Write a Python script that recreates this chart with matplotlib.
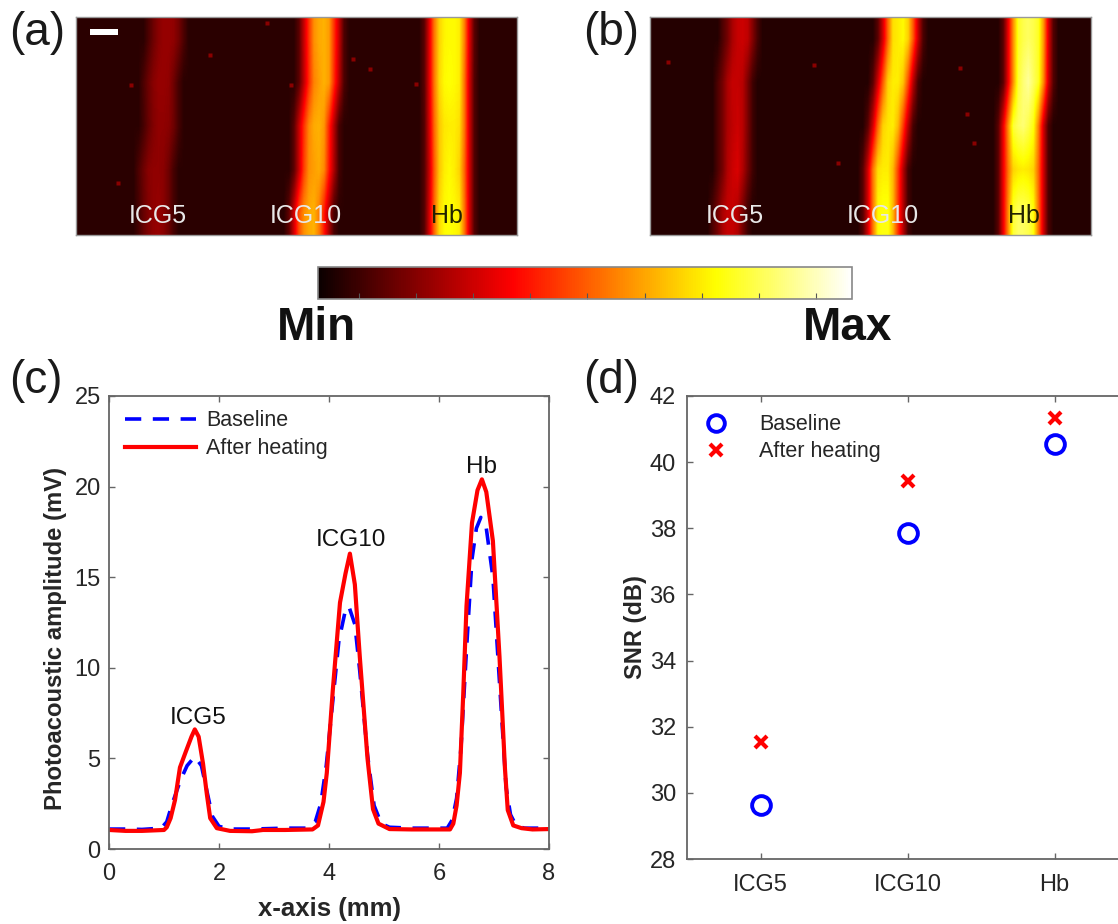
import matplotlib
matplotlib.use("Agg")
import matplotlib.pyplot as plt
from matplotlib.cm import ScalarMappable
from matplotlib.colors import Normalize
from matplotlib.lines import Line2D

plt.rcParams['font.family'] = ['Liberation Sans', 'DejaVu Sans']

W, H = 1118, 924
GREY = '#666666'
TXT = '#262626'

# ---- image panels: intensity (% of colour scale), coarse cells (88 columns)
img_a = [
 [5]*14+[10,15,19,21,21,20,16,10]+[5]*22+[12,28,44,58,62,63,60,44,28,10]+[5]*15+[12,32,54,68,73,74,74,72,56,32,12]+[5]*8,
 [5]*13+[10,15,19,21,21,20,15,9]+[5]*23+[12,27,43,56,60,63,60,43,26,10]+[5]*15+[12,32,54,69,74,75,74,72,54,30,11]+[5]*8,
 [5]*13+[9,14,18,20,20,19,15,9]+[5]*22+[12,28,44,57,62,63,59,42,25,9]+[5]*16+[11,30,52,66,71,72,72,70,54,30,11]+[5]*8,
 [5]*12+[10,15,19,20,20,19,15,9]+[5]*23+[12,28,46,58,60,62,57,40,24,9]+[5]*16+[11,28,50,66,72,74,72,68,52,30,11]+[5]*8,
 [5]*12+[9,14,18,20,21,19,15,9]+[5]*22+[13,30,48,58,62,63,55,40,24,9]+[5]*17+[11,30,52,69,74,75,74,72,54,30,11]+[5]*8,
]
img_b = [
 [4]*14+[10,16,24,28,29,27,18,9]+[4]*23+[12,30,52,70,72,74,68,50,28,10]+[4]*15+[12,34,58,78,82,84,82,78,60,32,11]+[4]*7,
 [4]*13+[10,16,24,28,28,26,17,8]+[4]*23+[12,30,50,68,72,72,66,48,26,9]+[4]*16+[12,34,58,80,86,90,84,78,58,30,11]+[4]*7,
 [4]*13+[10,16,24,27,29,26,17,8]+[4]*22+[12,30,52,68,71,72,64,46,26,9]+[4]*16+[12,34,58,80,84,86,82,76,56,30,10]+[4]*8,
 [4]*13+[10,16,25,29,31,25,16,8]+[4]*21+[12,30,54,70,72,72,64,46,26,9]+[4]*17+[12,34,54,68,71,72,71,68,52,30,10]+[4]*8,
 [4]*12+[10,16,24,28,28,25,16,8]+[4]*22+[12,30,54,74,76,76,64,44,26,9]+[4]*17+[12,34,58,80,84,84,82,76,54,30,10]+[4]*8,
]
speck_a_x = [191, 134, 277, 215, 340, 294, 55, 42]
speck_a_y = [6, 38, 42, 68, 67, 52, 68, 166]
speck_b_x = [18, 164, 310, 317, 324, 188]
speck_b_y = [45, 48, 51, 97, 126, 146]
band_labels = ['ICG5', 'ICG10', 'Hb']

# ---- panel c: amplitude profiles
red_x = [0,.3,.6,1.0,1.05,1.12,1.2,1.29,1.4,1.5,1.56,1.63,1.71,1.78,1.84,1.96,2.2,2.6,2.8,3.2,3.7,3.8,3.9,3.96,4.07,4.2,4.3,4.38,4.47,4.56,4.7,4.8,4.9,5.1,5.5,6.2,6.26,6.32,6.38,6.44,6.5,6.6,6.7,6.78,6.86,6.98,7.1,7.2,7.25,7.35,7.5,7.7,8]
red_y = [1.05,1.0,1.0,1.05,1.2,1.7,2.7,4.5,5.4,6.2,6.6,6.2,4.7,3.0,1.7,1.15,1.0,.98,1.05,1.05,1.08,1.3,2.6,4.2,8.8,13.6,15.2,16.3,14.6,10.6,5.0,2.2,1.4,1.1,1.08,1.08,1.4,2.4,4.2,8.5,13.4,18,19.8,20.4,19.7,17,10.6,4.4,2.15,1.3,1.15,1.08,1.1]
blue_x = [0,.3,.6,.95,1.05,1.15,1.3,1.42,1.56,1.68,1.78,1.88,2.0,2.2,2.6,3.2,3.6,3.75,3.85,3.95,4.07,4.18,4.3,4.36,4.47,4.56,4.7,4.82,4.95,5.1,5.5,6.15,6.24,6.32,6.4,6.5,6.6,6.68,6.76,6.86,6.98,7.1,7.22,7.3,7.4,7.55,8]
blue_y = [1.1,1.1,1.08,1.15,1.5,2.5,3.8,4.6,5.1,4.6,3.2,1.8,1.25,1.1,1.1,1.15,1.15,1.5,2.5,4.6,8.2,11.5,13.2,13.4,12.4,9.8,5.2,2.4,1.4,1.2,1.15,1.15,1.6,2.8,5.6,11,16,17.7,18.3,17.7,15,9.2,3.4,1.9,1.3,1.15,1.15]
c_xticks = [0,2,4,6,8]
c_yticks = [0,5,10,15,20,25]

# ---- panel d: SNR
snr_cats = ['ICG5', 'ICG10', 'Hb']
snr_base = [29.62, 37.85, 40.55]
snr_heat = [31.55, 39.42, 41.33]
d_yticks = [28,30,32,34,36,38,40,42]
cbar_ticks = [.076,.183,.29,.397,.504,.612,.719,.826,.933]

fig = plt.figure(figsize=(W/100, H/100), dpi=100)

def ax_px(l, t, r, b):
    return fig.add_axes([l/W, 1-b/H, (r-l)/W, (b-t)/H])

def fig_text(x, y, s, **kw):
    fig.text(x/W, 1-y/H, s, **kw)

def style(ax):
    for s in ax.spines.values():
        s.set_color(GREY); s.set_linewidth(1.3)

def image_panel(rect, data, sx, sy):
    ax = ax_px(*rect)
    w, h = rect[2]-rect[0], rect[3]-rect[1]
    ax.imshow(data, cmap='hot', vmin=0, vmax=100, aspect='auto',
              interpolation='bilinear', extent=(0, w, h, 0))
    ax.plot(sx, sy, ls='none', marker='s', ms=2.2, mfc='#8a0000', mec='none')
    ax.set_xlim(0, w); ax.set_ylim(h, 0)
    ax.set_xticks([]); ax.set_yticks([])
    for s in ax.spines.values():
        s.set_color('#999999'); s.set_linewidth(1)
    return ax

ax_a = image_panel((76, 17, 517, 235), img_a, speck_a_x, speck_a_y)
ax_b = image_panel((650, 17, 1091, 235), img_b, speck_b_x, speck_b_y)
ax_a.add_patch(plt.Rectangle((14, 12), 28, 6, color='white', lw=0))

for ax, xs in ((ax_a, (82, 230, 371)), (ax_b, (85, 233, 374))):
    for x, s in zip(xs, band_labels):
        c = '#222200' if s == 'Hb' else '#e8e8e8'
        ax.text(x, 199, s, color=c, fontsize=18, ha='center', va='center')

for x, y, s in ((9, 33, '(a)'), (583, 33, '(b)'), (9, 381, '(c)'), (583, 381, '(d)')):
    fig_text(x, y, s, fontsize=33, color='#1a1a1a', ha='left', va='center')

# colour bar
cax = ax_px(318, 267, 852, 299)
cb = fig.colorbar(ScalarMappable(Normalize(0, 1), 'hot'), cax=cax, orientation='horizontal')
cb.set_ticks(cbar_ticks)
cb.ax.tick_params(direction='in', length=4, width=0.8, color='#555555', labelbottom=False)
cb.outline.set_edgecolor('#888888'); cb.outline.set_linewidth(1.2)
fig_text(316, 328, 'Min', fontsize=33, fontweight='bold', color='#111111', ha='center', va='center')
fig_text(848, 328, 'Max', fontsize=33, fontweight='bold', color='#111111', ha='center', va='center')

# panel c
ax_c = ax_px(109, 396, 549, 849)
ax_c.plot(blue_x, blue_y, color='#0000ff', lw=2.6, ls=(0, (4.5, 3.2)), label='Baseline')
ax_c.plot(red_x, red_y, color='#ff0000', lw=3, label='After heating')
ax_c.set_xlim(0, 8); ax_c.set_ylim(0, 25)
ax_c.set_xticks(c_xticks); ax_c.set_yticks(c_yticks)
ax_c.tick_params(direction='in', length=4, width=1, color=GREY, top=True, right=True,
                 labelsize=17, labelcolor=TXT, pad=6)
ax_c.tick_params(axis='x', pad=10)
style(ax_c)
ax_c.set_xlabel('x-axis (mm)', fontsize=18.5, fontweight='bold', color=TXT, labelpad=9)
ax_c.set_ylabel('Photoacoustic amplitude (mV)', fontsize=17.2, fontweight='bold', color=TXT, labelpad=5, y=0.465)
ax_c.legend(loc='upper left', frameon=False, fontsize=15.5, labelcolor=TXT, handlelength=3.3,
            handletextpad=0.45, labelspacing=0.33, borderaxespad=0.2, borderpad=0.3,
            bbox_to_anchor=(0.012, 0.992))
ax_c.text(1.62, 6.6, 'ICG5', fontsize=17.5, color='#111111', ha='center', va='bottom')
ax_c.text(4.4, 16.45, 'ICG10', fontsize=17.5, color='#111111', ha='center', va='bottom')
ax_c.text(6.78, 20.45, 'Hb', fontsize=17.5, color='#111111', ha='center', va='bottom')

# panel d
ax_d = ax_px(687, 396, 1128, 859)
xpos = list(range(len(snr_cats)))
ax_d.plot(xpos, snr_base, ls='none', marker='o', ms=13.5, mfc='none', mec='#0000ff', mew=2.8, label='Baseline')
ax_d.plot(xpos, snr_heat, ls='none', marker='x', ms=8, mec='#ff0000', mew=3, label='After heating')
ax_d.set_xlim(-0.5, 2.5); ax_d.set_ylim(28, 42)
ax_d.set_xticks(xpos, snr_cats); ax_d.set_yticks(d_yticks)
ax_d.tick_params(direction='in', length=4, width=1, color=GREY, top=True, labelcolor=TXT)
ax_d.tick_params(axis='x', labelsize=17, pad=11)
ax_d.tick_params(axis='y', labelsize=17, pad=8)
style(ax_d)
ax_d.set_ylabel('SNR (dB)', fontsize=17, fontweight='bold', color=TXT, labelpad=2)
ax_d.legend(handles=[Line2D([], [], ls='none', marker='o', ms=12, mfc='none', mec='#0000ff', mew=2.8, label='Baseline'),
                     Line2D([], [], ls='none', marker='x', ms=8, mec='#ff0000', mew=3, label='After heating')],
            loc='upper left', frameon=False, fontsize=15.5, labelcolor=TXT, handletextpad=1.0,
            labelspacing=0.28, bbox_to_anchor=(-0.017, 0.993), borderaxespad=0.3)

fig.savefig('out.png', dpi=100, facecolor='white')
